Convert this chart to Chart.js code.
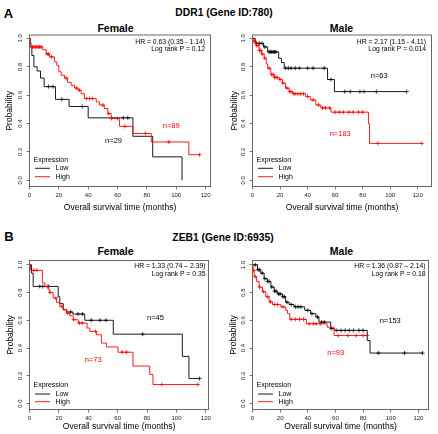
<!DOCTYPE html>
<html><head><meta charset="utf-8">
<script src="https://cdn.jsdelivr.net/npm/chart.js@4/dist/chart.umd.min.js"></script>
<style>
html,body{margin:0;padding:0;background:#fff}
body{width:438px;height:434px;position:relative;overflow:hidden;font-family:"Liberation Sans",Arial,Helvetica,sans-serif}
.t{position:absolute;font-weight:bold;white-space:nowrap;transform:translate(-50%,-50%);line-height:1;color:#000}
canvas{position:absolute}
</style></head>
<body>
<div class="t" style="left:8.5px;top:12.5px;font-size:13px">A</div>
<div class="t" style="left:224px;top:12.5px;font-size:10.3px">DDR1 (Gene ID:780)</div>
<div class="t" style="left:115.5px;top:27.5px;font-size:10.5px">Female</div>
<div class="t" style="left:341.5px;top:27.5px;font-size:10.5px">Male</div>
<div class="t" style="left:9px;top:235.5px;font-size:13px">B</div>
<div class="t" style="left:223px;top:237.5px;font-size:10.3px">ZEB1 (Gene ID:6935)</div>
<div class="t" style="left:115.5px;top:251px;font-size:10.5px">Female</div>
<div class="t" style="left:341.5px;top:251px;font-size:10.5px">Male</div>

<canvas id="c1" width="218" height="196" style="left:0px;top:20px"></canvas>
<canvas id="c2" width="218" height="196" style="left:220px;top:20px"></canvas>
<canvas id="c3" width="218" height="188" style="left:0px;top:246px"></canvas>
<canvas id="c4" width="218" height="188" style="left:220px;top:246px"></canvas>

<script>
// ================= DATA =================
const xTicks = [0, 20, 40, 60, 80, 100, 120];
const yTicks = [0, 0.2, 0.4, 0.6, 0.8, 1.0];
const groupNames = ['Low', 'High'];
const legendTitle = 'Expression';
const xTitle = 'Overall survival time (months)';
const yTitle = 'Probability';

// DDR1 – Female
const ddr1FemLowTime  = [0, 0.5, 1.6, 3, 5.2, 7.5, 10, 17.7, 27, 40, 70.5, 84, 104];
const ddr1FemLowSurv  = [1, 0.94, 0.88, 0.80, 0.77, 0.72, 0.66, 0.57, 0.52, 0.44, 0.31, 0.165, 0];
const ddr1FemLowCens  = [13, 16, 22, 36, 64, 67];
const ddr1FemHighTime = [0, 0.5, 1.1, 9, 11.4, 13.6, 17, 18.6, 20, 21.6, 23.9, 26, 28.4, 30.7, 33, 35.2, 37.5, 45.5, 47.7, 51, 53.4, 55.7, 61.4, 70.5, 83, 108.6];
const ddr1FemHighSurv = [1, 0.97, 0.94, 0.92, 0.89, 0.87, 0.835, 0.81, 0.765, 0.74, 0.72, 0.69, 0.67, 0.65, 0.635, 0.61, 0.576, 0.553, 0.53, 0.506, 0.47, 0.435, 0.38, 0.33, 0.27, 0.18];
const ddr1FemHighCens = [2, 3, 4, 5, 6, 7, 8, 12, 13, 15, 25, 32, 34, 39, 41, 43, 50, 54, 56, 60, 65, 79, 95, 116];

// DDR1 – Male
const ddr1MaleLowTime  = [0, 2, 8, 11, 19, 21, 23, 54.5, 59.5];
const ddr1MaleLowSurv  = [1, 0.965, 0.94, 0.905, 0.86, 0.83, 0.79, 0.71, 0.625];
const ddr1MaleLowCens  = [3, 5, 7, 9, 12, 13, 14, 15, 16, 17, 24, 26, 28, 31, 34, 40, 44, 52, 57, 67, 71, 78, 81, 90, 112];
const ddr1MaleHighTime = [0, 1, 2.5, 4.8, 6.5, 8.5, 10, 11, 13.3, 15.7, 19.4, 21.8, 24, 26.6, 29, 38.7, 42, 46, 49.6, 57, 84.2, 85];
const ddr1MaleHighSurv = [1, 0.98, 0.95, 0.915, 0.89, 0.86, 0.82, 0.79, 0.745, 0.725, 0.71, 0.685, 0.65, 0.625, 0.61, 0.59, 0.566, 0.53, 0.51, 0.48, 0.40, 0.26];
const ddr1MaleHighCens = [1, 2, 3, 4, 5, 6, 7, 9, 12, 14, 15, 16, 17, 18, 20, 22, 25, 27, 28, 30, 31, 33, 35, 37, 40, 44, 48, 51, 53, 56, 60, 63, 66, 70, 73, 77, 80, 91, 123];

// ZEB1 – Female
const zeb1FemLowTime  = [0, 1.4, 2.5, 19.5, 20.6, 23, 25.4, 29.5, 37.6, 57, 104, 108.5];
const zeb1FemLowSurv  = [1, 0.94, 0.844, 0.77, 0.72, 0.676, 0.66, 0.645, 0.6, 0.5, 0.34, 0.18];
const zeb1FemLowCens  = [7, 9, 13, 28, 33, 36, 42, 48, 52, 77, 115.7];
const zeb1FemHighTime = [0, 0.7, 8.8, 10.4, 12.7, 13.8, 16.1, 18.3, 20.6, 22.9, 25.1, 27.4, 29.7, 33.1, 39.2, 41, 45.5, 48.9, 52.3, 60.2, 70.4, 81.8, 84];
const zeb1FemHighSurv = [1, 0.96, 0.87, 0.844, 0.82, 0.80, 0.76, 0.73, 0.70, 0.676, 0.652, 0.633, 0.604, 0.58, 0.544, 0.52, 0.496, 0.436, 0.408, 0.37, 0.27, 0.21, 0.137];
const zeb1FemHighCens = [3, 5, 12, 14, 18, 22, 26, 30, 34, 36, 45, 63, 66, 90, 114.6];

// ZEB1 – Male
const zeb1MaleLowTime  = [0, 3.6, 6, 8.4, 10.8, 13.3, 15.7, 18, 21.7, 24, 26.5, 30, 37.8, 42, 45.8, 48, 56.6, 59.5, 83, 85];
const zeb1MaleLowSurv  = [1, 0.964, 0.94, 0.90, 0.88, 0.84, 0.81, 0.79, 0.77, 0.73, 0.714, 0.697, 0.672, 0.648, 0.624, 0.587, 0.54, 0.527, 0.454, 0.364];
const zeb1MaleLowCens  = [2, 4, 5, 7, 9, 11, 12, 14, 16, 17, 19, 20, 22, 23, 25, 28, 31, 33, 35, 40, 43, 47, 50, 52, 57, 61, 64, 67, 70, 73, 77, 80, 91, 110, 123];
const zeb1MaleHighTime = [0, 0.5, 1.2, 3, 4.8, 7.2, 9.6, 12, 14.5, 20.5, 24, 25.3, 27, 39, 54, 59];
const zeb1MaleHighSurv = [1, 0.96, 0.915, 0.88, 0.84, 0.806, 0.77, 0.733, 0.714, 0.697, 0.672, 0.648, 0.607, 0.575, 0.55, 0.49];
const zeb1MaleHighCens = [1, 2, 5, 8, 11, 13, 16, 18, 22, 28, 31, 34, 37, 41, 44, 46, 49, 62, 69, 75, 80, 83];

// Annotation texts
const hrLabels = ['HR = 0.63 (0.35 - 1.14)', 'HR = 2.17 (1.15 - 4.11)', 'HR = 1.33 (0.74 \u2013 2.39)', 'HR = 1.36 (0.87 \u2013 2.14)'];
const pLabels  = ['Log rank P = 0.12', 'Log rank P = 0.014', 'Log rank P = 0.35', 'Log rank P = 0.18'];
const nLowLabels  = ['n=29', 'n=63', 'n=45', 'n=153'];
const nHighLabels = ['n=89', 'n=183', 'n=73', 'n=93'];

// ================= RENDER =================
const FAM = '"Liberation Sans", Arial, Helvetica, sans-serif';
const LOW_COLOR = '#000000';
const HIGH_COLOR = '#ff0000';

function survAt(T, S, t) {
  let s = S[0];
  for (let i = 0; i < T.length; i++) if (T[i] <= t) s = S[i];
  return s;
}
function curve(T, S, C) {
  const pts = T.map((t, i) => ({x: t, y: S[i]}));
  const lastC = Math.max(...C);
  if (lastC > T[T.length - 1]) pts.push({x: lastC, y: S[S.length - 1]});
  return pts;
}
function cens(T, S, C) {
  return C.map(t => ({x: t, y: survAt(T, S, t)}));
}

const decoPlugin = {
  id: 'deco',
  afterDatasetsDraw(chart, args, o) {
    const {ctx, chartArea: a, scales: {x, y}} = chart;
    ctx.save();
    // box
    ctx.strokeStyle = '#666'; ctx.lineWidth = 1;
    ctx.strokeRect(a.left, a.top, a.right - a.left, a.bottom - a.top);
    // HR / p
    ctx.fillStyle = '#000';
    ctx.font = '6.8px ' + FAM;
    ctx.textAlign = 'right'; ctx.textBaseline = 'middle';
    ctx.fillText(o.hr, a.right + o.hrDx, a.top + o.hrDy[0]);
    ctx.fillText(o.p, a.right + o.hrDx, a.top + o.hrDy[1]);
    // n labels
    ctx.font = '7.5px ' + FAM; ctx.textAlign = 'center';
    ctx.fillStyle = LOW_COLOR;
    ctx.fillText(o.nLow, x.getPixelForValue(o.nLowAt[0]), y.getPixelForValue(o.nLowAt[1]));
    ctx.fillStyle = HIGH_COLOR;
    ctx.fillText(o.nHigh, x.getPixelForValue(o.nHighAt[0]), y.getPixelForValue(o.nHighAt[1]));
    // legend
    const L = o.leg;
    ctx.font = '7px ' + FAM; ctx.textAlign = 'left'; ctx.fillStyle = '#000';
    ctx.fillText(legendTitle, a.left + 4, a.bottom + L[0]);
    const cols = [LOW_COLOR, HIGH_COLOR];
    [L[1], L[2]].forEach((dy, i) => {
      ctx.strokeStyle = cols[i]; ctx.lineWidth = 0.9;
      ctx.beginPath(); ctx.moveTo(a.left + 5.5, a.bottom + dy); ctx.lineTo(a.left + 20.5, a.bottom + dy); ctx.stroke();
      ctx.fillStyle = '#000';
      ctx.fillText(groupNames[i], a.left + 26, a.bottom + dy);
    });
    ctx.restore();
  }
};

const panels = [
  {id: 'c1', T: [ddr1FemLowTime, ddr1FemHighTime], S: [ddr1FemLowSurv, ddr1FemHighSurv], C: [ddr1FemLowCens, ddr1FemHighCens],
   xmax: 123.4, ymin: -0.044, ymax: 1.024, pad: {top: 15, right: 7.5}, yw: 29.5, xh: 29.5, ytp: 4.4, xtb: 3.4,
   hrDx: -5.5, hrDy: [6.7, 14.3], leg: [-26.5, -18.2, -9.8], nLowAt: [57.3, 0.274], nHighAt: [96.6, 0.385]},
  {id: 'c2', T: [ddr1MaleLowTime, ddr1MaleHighTime], S: [ddr1MaleLowSurv, ddr1MaleHighSurv], C: [ddr1MaleLowCens, ddr1MaleHighCens],
   xmax: 130, ymin: -0.044, ymax: 1.024, pad: {top: 15, right: 6.5}, yw: 32.5, xh: 29.5, ytp: 9.9, xtb: 3.4,
   hrDx: -5.5, hrDy: [6.7, 14.3], leg: [-26.5, -18.2, -9.8], nLowAt: [92, 0.737], nHighAt: [63.7, 0.325]},
  {id: 'c3', T: [zeb1FemLowTime, zeb1FemHighTime], S: [zeb1FemLowSurv, zeb1FemHighSurv], C: [zeb1FemLowCens, zeb1FemHighCens],
   xmax: 121.8, ymin: -0.043, ymax: 1.031, pad: {top: 14.5, right: 9.5}, yw: 29.5, xh: 24.5, ytp: 5.4, xtb: 2.2,
   hrDx: -3, hrDy: [6, 14], leg: [-24.5, -15.5, -7.8], nLowAt: [85.7, 0.617], nHighAt: [43.3, 0.317]},
  {id: 'c4', T: [zeb1MaleLowTime, zeb1MaleHighTime], S: [zeb1MaleLowSurv, zeb1MaleHighSurv], C: [zeb1MaleLowCens, zeb1MaleHighCens],
   xmax: 127.3, ymin: -0.043, ymax: 1.031, pad: {top: 14.5, right: 9.5}, yw: 32.5, xh: 24.5, ytp: 8.9, xtb: 2.2,
   hrDx: -3, hrDy: [6, 14], leg: [-24.5, -15.5, -7.8], nLowAt: [99.6, 0.597], nHighAt: [60.2, 0.364]}
];

panels.forEach((P, k) => {
  const colors = [LOW_COLOR, HIGH_COLOR];
  const datasets = [];
  [1, 0].forEach(g => {
    datasets.push({
      type: 'line', label: groupNames[g], data: curve(P.T[g], P.S[g], P.C[g]),
      stepped: 'before', borderColor: colors[g], borderWidth: 0.9, pointRadius: 0, fill: false, tension: 0
    });
    datasets.push({
      type: 'scatter', label: groupNames[g] + ' censored', data: cens(P.T[g], P.S[g], P.C[g]),
      pointStyle: 'cross', pointRadius: 2, borderColor: colors[g], backgroundColor: colors[g], pointBorderWidth: 0.8
    });
  });
  new Chart(document.getElementById(P.id), {
    type: 'line',
    data: {datasets},
    plugins: [decoPlugin],
    options: {
      responsive: false, animation: false, devicePixelRatio: 1, events: [],
      layout: {padding: {top: P.pad.top, right: P.pad.right, left: 0, bottom: 0}},
      plugins: {
        legend: {display: false}, tooltip: {enabled: false}, title: {display: false},
        deco: {hr: hrLabels[k], p: pLabels[k], nLow: nLowLabels[k], nHigh: nHighLabels[k],
               nLowAt: P.nLowAt, nHighAt: P.nHighAt, hrDx: P.hrDx, hrDy: P.hrDy, leg: P.leg}
      },
      scales: {
        x: {
          type: 'linear', min: 0, max: P.xmax,
          afterBuildTicks: s => { s.ticks = xTicks.map(v => ({value: v})); },
          afterFit: s => { s.height = P.xh; },
          grid: {drawOnChartArea: false, drawTicks: true, tickLength: 3, color: '#555', lineWidth: 0.8},
          border: {display: false},
          ticks: {autoSkip: false, minRotation: 0, maxRotation: 0, padding: 2, color: '#222',
                  font: {family: FAM, size: 6}, callback: v => String(v)},
          title: {display: true, text: xTitle, color: '#000', font: {family: FAM, size: 8.5},
                  padding: {top: 0, bottom: P.xtb}}
        },
        y: {
          type: 'linear', min: P.ymin, max: P.ymax,
          afterBuildTicks: s => { s.ticks = yTicks.map(v => ({value: v})); },
          afterFit: s => { s.width = P.yw; },
          grid: {drawOnChartArea: false, drawTicks: true, tickLength: 3, color: '#555', lineWidth: 0.8},
          border: {display: false},
          ticks: {minRotation: 90, maxRotation: 90, crossAlign: 'center', padding: 1.5, color: '#222',
                  font: {family: FAM, size: 6}, callback: v => Number(v).toFixed(1)},
          title: {display: true, text: yTitle, color: '#000', font: {family: FAM, size: 8.5},
                  padding: {top: P.ytp, bottom: 0}}
        }
      }
    }
  });
});
</script>
</body></html>
